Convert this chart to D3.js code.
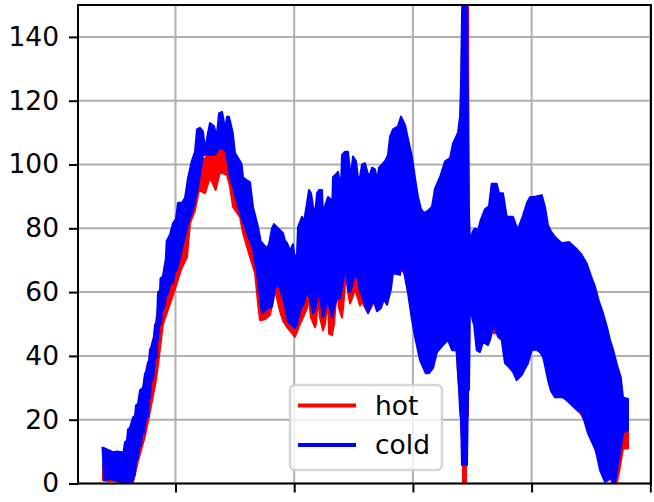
<!DOCTYPE html>
<html><head><meta charset="utf-8">
<script src="https://cdn.jsdelivr.net/npm/d3@7"></script>
<style>html,body{margin:0;padding:0;background:#fff}svg{display:block}text{font-family:"DejaVu Sans",sans-serif}</style>
</head><body><svg id="c" width="654" height="502"></svg>
<script>
const yTicks=[0,20,40,60,80,100,120,140];
const xTicks=[118.5,237.2,355.9,474.6,593.3];
const legendLabels=["hot","cold"];
const seriesColors=["#ff0000","#0000ff"];
// envelope of the oscillating signals, as [x, value]
const coldUpper=[[45.5,11.2],[46,11.2],[51,10.5],[56,9.8],[60,10],[65,9.8],[66.3,9.5],[68,13],[70,13.5],[71,17],[73,17.5],[76,20.7],[78,21.3],[79,24.5],[81,25],[83,29.2],[86,30],[88,34.5],[89,35],[91,38],[92,38.5],[93,42],[94,42.5],[96,45],[97,45.5],[98,49.7],[100,50.5],[101,60],[103,60.5],[103.5,64.3],[106,65],[108,69],[108.7,70],[109.7,76],[113,78],[116,81.6],[119,83],[121,88],[125,88],[128,89.5],[131,95.7],[134.7,101],[138,104],[140,111],[143,111.5],[146,110.4],[148,104.5],[151,110],[153,113],[157,112],[159.7,108.7],[162,116],[165,116.5],[166,115],[168,111],[170,115],[172,115],[175.7,110],[178,103.6],[183,101],[184.7,100],[186,96],[190,95],[193,94.5],[196,86.7],[201,80.4],[203.7,76],[209.7,73.7],[212,75],[215,80],[217,81.3],[221,80],[226,78.5],[228,76],[230,75.4],[233,73],[236,75],[238,70],[240,72],[241,80.4],[245,83.6],[247,82],[250,88],[252,92],[254,91],[256,87],[258,84],[260,91],[262,92],[265,92],[266,84.8],[269,88],[271,89.8],[274,89],[275,85],[276,96],[279,97],[281,97.7],[284,93],[285,103],[288,104],[291,104],[293,98],[294,97],[296,102.5],[299,101],[301,96],[303,96],[305,100],[308,100.4],[310,98],[312,96],[315,99],[318,98.5],[320,95],[322,99],[328,101],[331,103],[333,108.7],[336,111],[338,111.4],[341,112],[344,115],[348,112.4],[351,108],[355,102.4],[358,95.7],[361,89.9],[364,86],[367,84.8],[371,85.5],[375,86.8],[378,92.5],[383,96],[388,101],[393,102],[396,106.6],[401,110],[403,115],[404,125],[405,147],[406,156],[410,156],[411,110],[412,84.7],[413,75.7],[415.7,79],[418,80],[421,79.4],[423.7,82.6],[428,86],[432,87],[434.7,94],[439.7,94],[442,91],[446,91],[449.7,83.6],[456,83.6],[460.7,79.5],[466,84],[470,88],[473,89.7],[479,90],[484.7,90.4],[488,86.7],[491,81],[494,79],[498,77.3],[504.7,75.3],[512,75.7],[519,73.7],[524,72],[529.7,69],[534,65],[538,61.7],[542,57],[546,53.4],[550,49],[553,45],[556,42],[558.7,38.7],[561,36],[563.7,33.4],[566,27],[571,26.5]];
const coldLower=[[571,16.7],[566,16],[564,11.5],[561,6.3],[558,0.3],[555,0.5],[553,3],[551,1],[548,0.5],[543,4.2],[538.7,10.5],[535,13],[531,15.7],[528,19],[524.7,22],[520,23],[514.7,24.6],[510,26],[506,27],[498,27],[494,29],[491,32.4],[488,37],[486,39.7],[483,41.2],[479,42],[474.7,41.8],[471,37.7],[468,36],[464.7,34],[459.7,32.4],[456,35],[452,36.5],[448,37.7],[446,42],[444.7,45],[441,46],[437,49.7],[435,47.6],[433,45],[431,43.4],[426,44.4],[423,41.2],[419.7,41.8],[417,50],[416,50.7],[413,56],[412,29.3],[411,29.3],[410,5.8],[405,5.8],[404,20],[403,23],[402,30],[401,34],[399.7,41.8],[395,41.8],[391,45],[386,43.4],[380,41.2],[376,36.2],[372,34.6],[368.7,34.6],[363,38.7],[358,46],[355,51.2],[351,59.7],[348,64.7],[345,69],[343,65.4],[336,66],[334,61],[330,56],[327,58],[324,55],[320,54],[318,56],[316,57.5],[313,55],[311,53.4],[308,56],[305,59],[303,60],[301,64],[298,66],[295,62],[293,60],[291,60.7],[289,68],[286,63],[283,58],[280,58],[277,55],[275,52],[272,56],[271,58.5],[268,54],[266,52.2],[263,58],[261,60],[258,54],[256,53.4],[253,58],[250,60],[246,56],[243,54.4],[240,50],[238,48.7],[234,50],[231,50.7],[227,57],[224,60],[221,63],[218,61],[215,55.4],[211,55],[205,53.4],[203,58],[200,66],[197,71],[196,73.7],[190,78.5],[183,84.7],[176,93],[173,96],[169,104],[163,105.5],[158,103],[151,103],[146,103],[144.7,100],[141,93],[136,86],[131,81.6],[126,75],[123,71],[120,67],[118,66.5],[116,63],[113,62.5],[111,59.5],[109,59],[107,55],[105,54.5],[104,50],[102,49.5],[101,45],[100,44.5],[100,39.7],[98,39],[96,32.4],[94,32],[93,27],[92,26.5],[91,21],[89,20.5],[87,16],[85,15.5],[84,12],[82,11.5],[81,8],[79,7],[78,3],[76,1],[71,0],[65,0.5],[59,1],[53,1.5],[47,1]];
const hotUpper=[[46,6],[58,6],[65,6],[76,15],[91,34],[101,55],[109,70],[119,80],[131,92],[141,100],[148,102],[155,104],[163,105],[171,104],[178,100],[188,92],[196,80],[203,70],[213,72],[228,70],[243,72],[263,75],[289,80],[323,85],[343,90],[373,75],[403,100],[406,156],[411,156],[412,70],[423,70],[443,75],[473,75],[503,65],[533,45],[553,20],[571,20]];
const hotLower=[[571,11],[566,11],[563,5.2],[560,0.5],[555,1],[548,2],[543,6],[531,18],[514,27],[498,30],[488,40],[474,44],[459,35],[448,40],[445,46],[441,47.5],[437,47],[435,50],[431,46],[423,44],[417,52],[414,54],[413,53.4],[411.5,53],[411,21],[409,21],[409,0.5],[406,0.5],[406,8],[403,26],[399,44],[386,46],[372,37],[363,41],[355,54],[348,66],[343,67],[336,67],[328,57],[318,57.5],[311,53.4],[305,57],[303,55.8],[298,61],[295,58],[293,56.4],[291,60],[289,67.5],[287,58],[285,52],[282,55],[280,61],[277,50],[275,46.5],[272,47],[271,58],[268,50],[266,48],[263,52],[261,58],[259,50],[258,49],[254,52],[251,60],[250,55],[246,52],[243,50],[238,46],[234,47.5],[230,49],[226,51],[223,54],[218,60.7],[213,52.8],[208,51.5],[203,51.2],[201,56.5],[198,66],[193,71],[186,78.5],[183,83.5],[176,86.7],[173,93],[170,96.7],[163,97.7],[158.7,92],[153,96],[148,91],[142,92],[138,85.7],[133,81.6],[130,71],[124,67],[117,60],[106,50],[102,39.7],[99,32.4],[92,21],[88,15],[81,7],[76,0.5],[71,0],[65,0],[58,0.8],[51,0.8],[46,1]];

const L=78,R=651,T=5,B=483.5;
const x=d3.scaleLinear().domain([21,594]).range([L,R]);
const y=d3.scaleLinear().domain([0,150]).range([B,T]);
const svg=d3.select("#c");
svg.append("defs").append("clipPath").attr("id","plot").append("rect").attr("x",L).attr("y",T).attr("width",R-L).attr("height",B-T);

// grid
const grid=svg.append("g").attr("stroke","#b0b0b0").attr("stroke-width",2);
grid.selectAll(".gx").data(xTicks).join("line").attr("x1",d=>x(d)).attr("x2",d=>x(d)).attr("y1",T).attr("y2",B);
grid.selectAll(".gy").data(yTicks).join("line").attr("x1",L).attr("x2",R).attr("y1",d=>y(d)).attr("y2",d=>y(d));

// bands
const outline=d3.line().x(d=>x(d[0])).y(d=>y(d[1]));
const plot=svg.append("g").attr("clip-path","url(#plot)");
[[hotUpper,hotLower],[coldUpper,coldLower]].forEach((s,i)=>{
  plot.append("path").attr("d",outline(s[0].concat(s[1]))+"Z").attr("fill",seriesColors[i]).attr("stroke",seriesColors[i]).attr("stroke-width",2).attr("stroke-linejoin","round");
});

// axes
const ax=svg.append("g").attr("transform",`translate(0,${B})`).call(d3.axisBottom(x).tickValues(xTicks).tickSize(9).tickFormat(""));
const ay=svg.append("g").attr("transform",`translate(${L},0)`).call(d3.axisLeft(y).tickValues(yTicks).tickSize(9).tickPadding(10));
[ax,ay].forEach(g=>{g.select(".domain").remove();g.selectAll("line").attr("stroke","#000").attr("stroke-width",2);});
ay.selectAll("text").attr("font-size",26.5).attr("fill","#000").attr("font-family","DejaVu Sans");
const spines=svg.append("g").attr("stroke","#000").attr("stroke-width",2).attr("stroke-linecap","square");
[[L,T,L,B],[R,T,R,B],[L,T,R,T],[L,B,R,B]].forEach(s=>spines.append("line").attr("x1",s[0]).attr("y1",s[1]).attr("x2",s[2]).attr("y2",s[3]));

// legend
const lg=svg.append("g");
lg.append("rect").attr("x",290).attr("y",385).attr("width",152).attr("height",85).attr("rx",5).attr("fill","#fff").attr("fill-opacity",0.8).attr("stroke","#cccccc").attr("stroke-opacity",0.8).attr("stroke-width",2.6);
legendLabels.forEach((t,i)=>{
  const yy=405.4+i*39.6;
  lg.append("line").attr("x1",298).attr("x2",356).attr("y1",yy).attr("y2",yy).attr("stroke",seriesColors[i]).attr("stroke-width",4);
  lg.append("text").attr("x",375).attr("y",yy+9.2).attr("font-size",26.5).attr("fill","#000").text(t);
});
</script></body></html>
